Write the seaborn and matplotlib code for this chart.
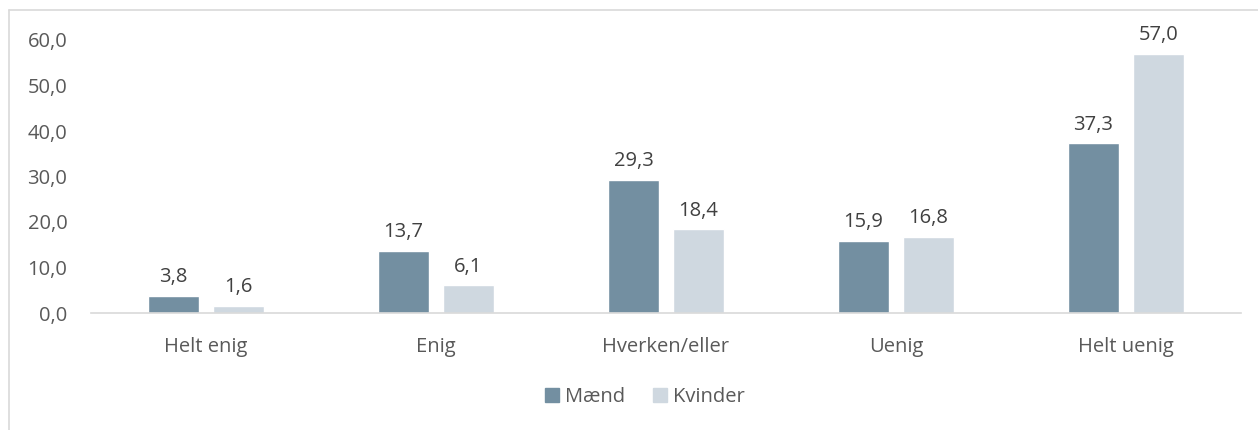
import pandas as pd
import matplotlib.pyplot as plt
import seaborn as sns
from matplotlib.lines import Line2D

# chart data
categories = ['Helt enig', 'Enig', 'Hverken/eller', 'Uenig', 'Helt uenig']
maend = [3.8, 13.7, 29.3, 15.9, 37.3]
kvinder = [1.6, 6.1, 18.4, 16.8, 57.0]
series_names = ['Mænd', 'Kvinder']
yticks = [0, 10, 20, 30, 40, 50, 60]

df = pd.DataFrame({'Kategori': categories, 'Mænd': maend, 'Kvinder': kvinder})
df_long = df.melt(id_vars='Kategori', value_vars=series_names, var_name='Køn', value_name='Andel')

sns.set_style('white')
plt.rcParams['font.family'] = ['Open Sans', 'DejaVu Sans']
fs = 14.5

fig = plt.figure(figsize=(12.58, 4.30), dpi=100)
ax = fig.add_axes([91 / 1258, 1 - 313 / 430, 1150 / 1258, 273 / 430])

sns.barplot(data=df_long, x='Kategori', y='Andel', hue='Køn', order=categories,
            hue_order=series_names, palette=['#738FA1', '#CFD8E0'],
            width=0.565, gap=0.215, ax=ax, legend=False, saturation=1)

for cont in ax.containers:
    ax.bar_label(cont, labels=[f'{v:.1f}'.replace('.', ',') for v in cont.datavalues],
                 padding=6, fontsize=fs, color='#404040')

ax.set_ylim(0, 60)
ax.set_xlim(-0.5, len(categories) - 0.5)
ax.set_yticks(yticks)
ax.set_yticklabels([f'{v:.1f}'.replace('.', ',') for v in yticks])
ax.set_xlabel('')
ax.set_ylabel('')
ax.tick_params(axis='y', length=0, pad=17, labelsize=fs, labelcolor='#595959')
ax.tick_params(axis='x', length=0, pad=17, labelsize=fs, labelcolor='#595959')
for s in ['top', 'right', 'left']:
    ax.spines[s].set_visible(False)
ax.spines['bottom'].set_color('#D9D9D9')
ax.spines['bottom'].set_linewidth(1.2)
ax.patch.set_alpha(0)

# legend below the chart
handles = [plt.Rectangle((0, 0), 1, 1, color=c) for c in ['#738FA1', '#CFD8E0']]
fig.legend(handles, series_names, loc='center', bbox_to_anchor=(645 / 1258, 1 - 397 / 430),
           ncol=2, frameon=False, fontsize=fs, labelcolor='#595959',
           handlelength=0.7, handleheight=0.7, handletextpad=0.3, columnspacing=1.4)

# chart area border (cropped at left/top)
fig.add_artist(Line2D([9 / 1258, 9 / 1258], [0, 1 - 10 / 430], color='#D9D9D9', lw=1.2))
fig.add_artist(Line2D([9 / 1258, 1], [1 - 10 / 430, 1 - 10 / 430], color='#D9D9D9', lw=1.2))

fig.savefig('out.png', dpi=100)
